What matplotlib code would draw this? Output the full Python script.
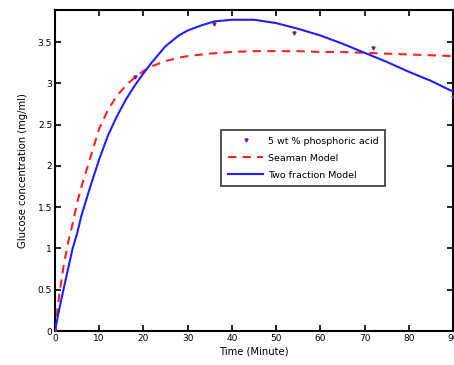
import matplotlib
matplotlib.use("Agg")
import matplotlib.pyplot as plt

plt.rcParams['font.family'] = ['DejaVu Sans']

# Experimental data (5 wt % phosphoric acid)
t_data = [0, 18, 36, 54, 72, 90]
y_data = [0.0, 3.08, 3.72, 3.61, 3.43, 2.83]

# Seaman model (red dashed)
t_seaman = [0, 1, 2, 3, 4, 5, 6, 8, 10, 12, 14, 16, 18, 20, 22, 25, 28, 30,
            35, 40, 45, 50, 55, 60, 65, 70, 75, 80, 85, 90]
y_seaman = [0.0, 0.45, 0.80, 1.08, 1.30, 1.55, 1.75, 2.10, 2.45, 2.68, 2.85,
            2.97, 3.07, 3.15, 3.21, 3.27, 3.31, 3.33, 3.36, 3.38, 3.39, 3.39,
            3.39, 3.38, 3.38, 3.37, 3.36, 3.35, 3.34, 3.33]

# Two fraction model (blue solid)
t_two = [0, 1, 2, 3, 4, 5, 6, 8, 10, 12, 14, 16, 18, 20, 22, 25, 28, 30, 33,
         36, 40, 45, 50, 55, 60, 65, 70, 75, 80, 85, 90]
y_two = [0.0, 0.27, 0.52, 0.76, 1.00, 1.18, 1.40, 1.75, 2.08, 2.37, 2.60,
         2.80, 2.97, 3.12, 3.26, 3.45, 3.58, 3.64, 3.70, 3.75, 3.77, 3.77,
         3.73, 3.66, 3.58, 3.48, 3.37, 3.26, 3.14, 3.03, 2.90]

x_ticks = [0, 10, 20, 30, 40, 50, 60, 70, 80, 90]
y_ticks = [0, 0.5, 1, 1.5, 2, 2.5, 3, 3.5]
y_ticklabels = ['0', '0.5', '1', '1.5', '2', '2.5', '3', '3.5']

fig = plt.figure(figsize=(4.54, 3.65), dpi=100)
ax = fig.add_axes([0.121, 0.093, 0.877, 0.88])

ax.plot(t_data, y_data, linestyle='none', marker='v', markersize=2.2,
        color='#6a1fa0', label='5 wt % phosphoric acid', zorder=4)
ax.plot(t_seaman, y_seaman, color='#ff2020', linestyle=(0, (4, 3)),
        linewidth=1.5, label='Seaman Model', zorder=3)
ax.plot(t_two, y_two, color='#2020ff', linewidth=1.5,
        label='Two fraction Model', zorder=3)

ax.set_xlim(0, 90)
ax.set_ylim(0, 3.89)
ax.set_xticks(x_ticks)
ax.set_yticks(y_ticks)
ax.set_yticklabels(y_ticklabels)
ax.tick_params(direction='in', top=True, right=True, length=4, width=1.2,
               labelsize=6.5, pad=2)
for s in ax.spines.values():
    s.set_linewidth(1.5)

ax.set_xlabel('Time (Minute)', fontsize=7.2, labelpad=3)
ax.set_ylabel('Glucose concentration (mg/ml)', fontsize=7.2, labelpad=7)

leg = ax.legend(loc='upper left', bbox_to_anchor=(0.417, 0.626),
                fontsize=6.8, frameon=True, fancybox=False, shadow=False,
                edgecolor='black', borderpad=0.7, handlelength=3.8,
                handletextpad=0.5, labelspacing=0.85, borderaxespad=0)
leg.get_frame().set_linewidth(1.2)

fig.savefig('out.png', dpi=100)
